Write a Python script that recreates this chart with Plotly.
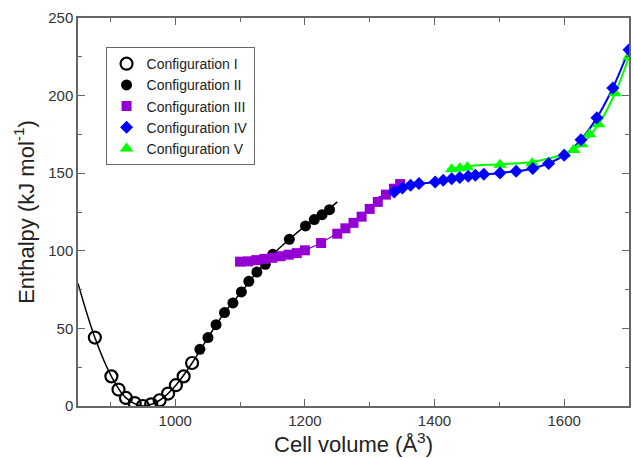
import plotly.graph_objects as go

# Configuration I (open circles)
v1 = [876, 901.5, 912.5, 924, 937.5, 950, 963, 976, 989, 1001, 1013, 1026]
h1 = [44.1, 19.1, 10.6, 5.2, 1.9, 0.0, 1.1, 3.7, 8.0, 13.4, 19.1, 27.7]

# Configuration II (filled circles)
v2 = [1038, 1050.5, 1063, 1076, 1089, 1102, 1113.5, 1126, 1139, 1150.5, 1176, 1201, 1214.5, 1226.5, 1238]
h2 = [36.5, 44.1, 52.4, 60.2, 66.4, 73.5, 80.3, 86.3, 91.3, 97.7, 107.4, 116.0, 120.1, 123.3, 126.5]

# Configuration III (squares)
v3 = [1100, 1112.5, 1125, 1137.5, 1150, 1162.5, 1175, 1187.5, 1200, 1225, 1250, 1262.5, 1275, 1287.5, 1300, 1312.5, 1325, 1337.5, 1347]
h3 = [93.0, 93.2, 94.0, 94.8, 95.5, 96.5, 97.5, 98.5, 100.3, 105.0, 111.0, 114.5, 118.0, 122.0, 127.0, 131.5, 136.2, 140.0, 143.0]

# Configuration IV (diamonds)
v4 = [1338, 1350.5, 1363, 1376, 1401, 1413.5, 1426.5, 1439, 1452, 1463, 1476, 1501, 1526, 1551.5, 1576, 1600, 1626, 1650.5, 1675, 1700]
h4 = [137.9, 140.5, 142.2, 143.3, 144.3, 145.4, 146.5, 147.2, 148.0, 148.6, 149.3, 150.1, 151.2, 153.0, 156.2, 161.5, 171.6, 185.8, 204.9, 229.6]

# Configuration V (triangles)
v5 = [1426.5, 1439, 1450.5, 1501, 1550.5, 1600, 1614.5, 1627, 1639, 1653, 1678.5, 1700]
h5 = [152.5, 153.2, 153.8, 155.4, 156.4, 162.2, 165.0, 168.7, 175.1, 181.5, 201.5, 225.0]

# Fitted curves
fit12_x = [850, 876, 901.5, 924, 950, 976, 1001, 1026, 1050.5, 1076, 1102, 1126, 1150.5, 1176, 1201, 1226.5, 1250]
fit12_y = [79.0, 44.1, 19.1, 5.2, 0.0, 3.7, 13.4, 27.7, 44.1, 60.2, 73.5, 86.3, 97.7, 107.4, 116.0, 123.3, 131.5]

fit4_x = [1312, 1338, 1363, 1401, 1452, 1501, 1551.5, 1600, 1626, 1650.5, 1675, 1700]
fit4_y = [134.0, 137.9, 142.2, 144.3, 148.0, 150.1, 153.0, 161.5, 171.6, 185.8, 204.9, 229.6]

fit5_x = [1420, 1450, 1500, 1550, 1600, 1627, 1653, 1678.5, 1700]
fit5_y = [152.5, 154.5, 155.8, 157.2, 162.5, 168.7, 181.5, 201.5, 225.0]

x_ticks = [1000, 1200, 1400, 1600]
y_ticks = [0, 50, 100, 150, 200, 250]

fig = go.Figure()

fig.add_trace(go.Scatter(x=fit12_x, y=fit12_y, mode="lines", line=dict(color="black", width=1.5, shape="spline"), showlegend=False, hoverinfo="skip"))
fig.add_trace(go.Scatter(x=v3, y=h3, mode="lines", line=dict(color="#9400d3", width=1.2), showlegend=False, hoverinfo="skip"))
fig.add_trace(go.Scatter(x=fit4_x, y=fit4_y, mode="lines", line=dict(color="#0000ff", width=2, shape="spline"), showlegend=False, hoverinfo="skip"))
fig.add_trace(go.Scatter(x=fit5_x, y=fit5_y, mode="lines", line=dict(color="#00ff00", width=2, shape="spline"), showlegend=False, hoverinfo="skip"))

fig.add_trace(go.Scatter(x=v1, y=h1, mode="markers", name="Configuration I", legendrank=1,
                         marker=dict(symbol="circle-open", size=12, color="black", line=dict(width=2.2, color="black"))))
fig.add_trace(go.Scatter(x=v2, y=h2, mode="markers", name="Configuration II", legendrank=2,
                         marker=dict(symbol="circle", size=11, color="black")))
fig.add_trace(go.Scatter(x=v3, y=h3, mode="markers", name="Configuration III", legendrank=3,
                         marker=dict(symbol="square", size=10, color="#9400d3")))
fig.add_trace(go.Scatter(x=v5, y=h5, mode="markers", name="Configuration V", legendrank=5,
                         marker=dict(symbol="triangle-up", size=12, color="#00ff00")))
fig.add_trace(go.Scatter(x=v4, y=h4, mode="markers", name="Configuration IV", legendrank=4,
                         marker=dict(symbol="diamond", size=10, color="#0000ff")))

axis_common = dict(
    showline=True, linecolor="#666666", linewidth=1.5, mirror="ticks",
    ticks="inside", ticklen=7, tickwidth=1.3, tickcolor="#666666",
    showgrid=False, zeroline=False,
    tickfont=dict(family="Liberation Sans, Arial, sans-serif", size=15, color="#333333"),
)

fig.update_layout(
    width=633, height=458,
    margin=dict(l=78, r=2, t=18, b=52),
    paper_bgcolor="white", plot_bgcolor="white",
    font=dict(family="Liberation Sans, Arial, sans-serif", color="#222222"),
    xaxis=dict(range=[850, 1700], tickvals=x_ticks,
               minor=dict(dtick=100, tick0=0, ticks="inside", ticklen=4, tickcolor="#666666", tickwidth=1.2),
               title=dict(text="Cell volume (Å<sup>3</sup>)", font=dict(size=22), standoff=5),
               **axis_common),
    yaxis=dict(range=[0, 250], tickvals=y_ticks,
               minor=dict(dtick=25, tick0=0, ticks="inside", ticklen=4, tickcolor="#666666", tickwidth=1.2),
               title=dict(text="Enthalpy (kJ mol<sup>-1</sup>)", font=dict(size=22), standoff=8),
               **axis_common),
    legend=dict(x=0.05, y=0.925, xanchor="left", yanchor="top",
                bordercolor="#666666", borderwidth=1, bgcolor="white",
                font=dict(size=14), traceorder="normal",
                itemsizing="trace", tracegroupgap=0),
)

fig.write_html("out.html", config={"displayModeBar": False},
               post_script="document.body.style.margin='0px';document.body.style.overflow='hidden';")
